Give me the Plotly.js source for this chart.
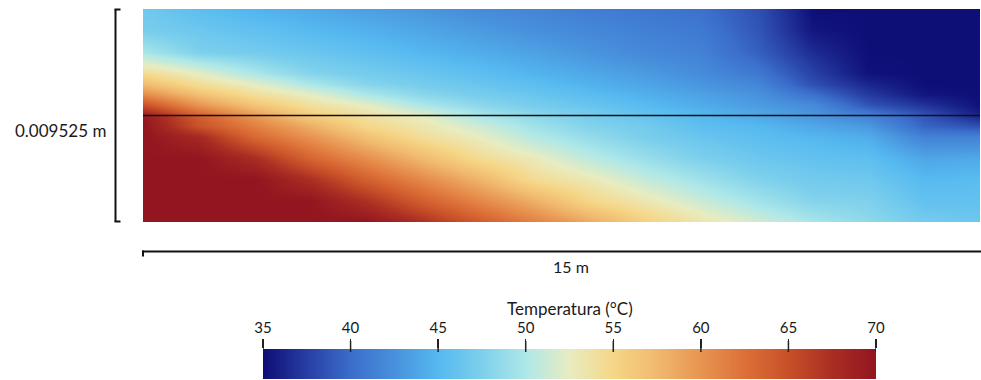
<!DOCTYPE html>
<html>
<head>
<meta charset="utf-8">
<script src="https://cdn.plot.ly/plotly-3.0.1.min.js"></script>
<style>
  html, body { margin: 0; padding: 0; background: #ffffff; }
  #chart { width: 981px; height: 380px; }
</style>
</head>
<body>
<div id="chart"></div>
<script>
// ---- Data ----
// Position along the exchanger (m)
const xPositions = [0, 1, 2, 3, 4, 5, 6, 7, 8, 9, 10, 11, 12, 13, 14, 15];
// Height across the section (m), bottom to top; total height 0.009525 m
const yPositions = [0, 0.0009525, 0.001905, 0.0028575, 0.00381, 0.00428625, 0.0047625,
                    0.00523875, 0.005715, 0.00619125, 0.0066675, 0.00762, 0.0085725, 0.009525];
// Temperature (°C): one list per x position, values from bottom to top
const temperatureColumns = [
  [70, 70, 70, 70, 70, 70, 69.5, 65, 60.5, 57.3, 54.5, 49.7, 47.2, 46.7],
  [70, 70, 70, 70, 68, 64.8, 64, 60, 56.9, 54.3, 52.3, 47.5, 46.5, 45.5],
  [70, 70, 70, 67.6, 63.1, 61.4, 59.8, 56.6, 54.1, 52.3, 49.8, 46.95, 45.8, 44.65],
  [70, 70, 67.4, 63.4, 60.1, 58.3, 56, 54, 52.3, 49.9, 47.85, 46.35, 45.1, 44],
  [70, 67.3, 63.7, 60.4, 56.9, 54.9, 54, 52.4, 49.85, 48, 47, 45.7, 44.46, 43.4],
  [67.4, 63.9, 60.7, 57.4, 54.2, 53.3, 52.4, 49.9, 48.1, 47.06, 46.3, 44.9, 43.8, 42.8],
  [64.25, 61, 57.85, 54.5, 52.6, 51.4, 49.9, 48.3, 47.1, 46.3, 45.55, 44.2, 43.1, 42.1],
  [61.35, 58.2, 54.4, 52.8, 50.3, 49.3, 48.4, 47.15, 46.3, 45.5, 44.7, 43.5, 42.4, 41.6],
  [58.6, 55, 53, 50.6, 48.7, 47.8, 47.15, 46.24, 45.35, 44.57, 43.88, 42.7, 41.85, 41.1],
  [55.6, 53.2, 50.9, 48.9, 47.3, 46.9, 46.1, 45.2, 44.4, 43.7, 43.1, 41.9, 41.3, 40.65],
  [53.4, 51.2, 49.2, 47.45, 46.3, 45.6, 45, 44.2, 43.5, 42.8, 42.1, 41.4, 40.8, 40.2],
  [51.5, 49.4, 47.7, 46.5, 45.5, 45, 44, 43.2, 42.5, 41.7, 40.75, 39.3, 38.75, 38.45],
  [49.7, 47.9, 46.8, 45.9, 44.9, 43.9, 42.85, 42.1, 40.15, 38.4, 37.6, 36.5, 35.4, 35],
  [48.4, 47.6, 46.6, 45.6, 44.2, 43, 41.5, 38.7, 37.2, 36.2, 35.2, 35, 35, 35],
  [47, 45.9, 45.1, 43.8, 41.5, 39.5, 38.8, 36.9, 35.4, 35, 35, 35, 35, 35],
  [46.5, 45.9, 45.3, 44, 41.5, 38.5, 36, 35.2, 35, 35, 35, 35, 35, 35]
];
// Interface line between the two channels (m)
const interfaceX = [0, 15];
const interfaceY = [0.0047625, 0.0047625];
// Colour bar
const colorbarTicks = [35, 40, 45, 50, 55, 60, 65, 70];
const colorbarTitle = 'Temperatura (°C)';
const heightLabel = '0.009525 m';
const lengthLabel = '15 m';

// Colour map stops (temperature -> colour)
const mapTemps  = [35, 37.5, 40, 42.5, 45, 47.5, 50, 52.5, 55, 57.5, 60, 62.5, 65, 67.5, 70];
const mapColors = ['#0e0e77', '#273fa4', '#3b6ecc', '#4891dc', '#55b9f0', '#7dd0ec', '#afe8e8',
                   '#e8ecc0', '#f6d687', '#f0b96e', '#e89450', '#dc7038', '#c85028', '#aa2d23', '#921520'];

const tMin = 35, tMax = 70;
const colorscale = mapTemps.map((t, i) => [(t - tMin) / (tMax - tMin), mapColors[i]]);

const z = yPositions.map((_, r) => xPositions.map((_, c) => temperatureColumns[c][r]));

const fontFam = 'Lato, "Open Sans", sans-serif';
const ink = '#1a1a1a';

// pixel helpers for layout decorations (plot area: x 143..980, y 9..379)
const W = 837, H = 370, L = 143, T = 9;
const px = p => (p - L) / W;
const py = p => (T + H - p) / H;

const traces = [
  {
    type: 'heatmap', x: xPositions, y: yPositions, z: z,
    zmin: tMin, zmax: tMax, colorscale: colorscale, zsmooth: 'best',
    showscale: false, hoverinfo: 'skip', xaxis: 'x', yaxis: 'y'
  },
  {
    type: 'scatter', mode: 'lines', x: interfaceX, y: interfaceY,
    line: { color: '#111111', width: 1.3 }, hoverinfo: 'skip', showlegend: false,
    xaxis: 'x', yaxis: 'y'
  },
  {
    type: 'heatmap', x: colorbarTicks, y: [0, 1], z: [colorbarTicks, colorbarTicks],
    zmin: tMin, zmax: tMax, colorscale: colorscale, zsmooth: 'best',
    showscale: false, hoverinfo: 'skip', xaxis: 'x2', yaxis: 'y2'
  }
];

const layout = {
  width: 981, height: 380,
  margin: { l: L, r: 1, t: T, b: 1, pad: 0 },
  paper_bgcolor: '#ffffff', plot_bgcolor: '#ffffff',
  showlegend: false,
  font: { family: fontFam, color: ink, size: 15 },
  xaxis: { domain: [0, 1], range: [0, 15], visible: false, fixedrange: true },
  yaxis: { domain: [py(222), 1], range: [0, 0.009525], visible: false, fixedrange: true },
  xaxis2: {
    domain: [px(263), px(876)], range: [tMin, tMax], anchor: 'y2', side: 'top',
    tickvals: colorbarTicks, ticktext: colorbarTicks.map(String),
    ticks: 'outside', ticklen: 9, tickwidth: 1.5, tickcolor: '#222222',
    showgrid: false, zeroline: false, showline: false,
    tickfont: { family: fontFam, size: 15, color: ink }, fixedrange: true
  },
  yaxis2: { domain: [0, py(349)], range: [0, 1], anchor: 'x2', visible: false, fixedrange: true },
  shapes: [
    // height bracket
    { type: 'line', xref: 'paper', yref: 'paper', x0: px(115.5), x1: px(115.5), y0: py(9.5), y1: py(221.5), line: { color: '#111', width: 2 } },
    { type: 'line', xref: 'paper', yref: 'paper', x0: px(114.5), x1: px(120.5), y0: py(9.5), y1: py(9.5), line: { color: '#111', width: 2 } },
    { type: 'line', xref: 'paper', yref: 'paper', x0: px(114.5), x1: px(120.5), y0: py(221.5), y1: py(221.5), line: { color: '#111', width: 2 } },
    // length bracket
    { type: 'line', xref: 'paper', yref: 'paper', x0: px(142), x1: px(982), y0: py(251.5), y1: py(251.5), line: { color: '#111', width: 2 } },
    { type: 'line', xref: 'paper', yref: 'paper', x0: px(143), x1: px(143), y0: py(250.5), y1: py(256.5), line: { color: '#111', width: 2 } },
    // colour-bar tick extensions into the bar edge
    ...colorbarTicks.map(t => ({ type: 'line', xref: 'x2', yref: 'paper', x0: t, x1: t,
      y0: py(341), y1: py(352), line: { color: '#222222', width: 1.5 } }))
  ],
  annotations: [
    { xref: 'paper', yref: 'paper', x: px(108), y: py(130), xanchor: 'right', yanchor: 'middle',
      text: heightLabel, showarrow: false, font: { family: fontFam, size: 17, color: ink } },
    { xref: 'paper', yref: 'paper', x: px(571), y: py(266), xanchor: 'center', yanchor: 'middle',
      text: lengthLabel, showarrow: false, font: { family: fontFam, size: 16, color: ink } },
    { xref: 'paper', yref: 'paper', x: px(570), y: py(308), xanchor: 'center', yanchor: 'middle',
      text: colorbarTitle, showarrow: false, font: { family: fontFam, size: 17, color: ink } }
  ]
};

Plotly.newPlot('chart', traces, layout, { displayModeBar: false, staticPlot: true });
</script>
</body>
</html>
